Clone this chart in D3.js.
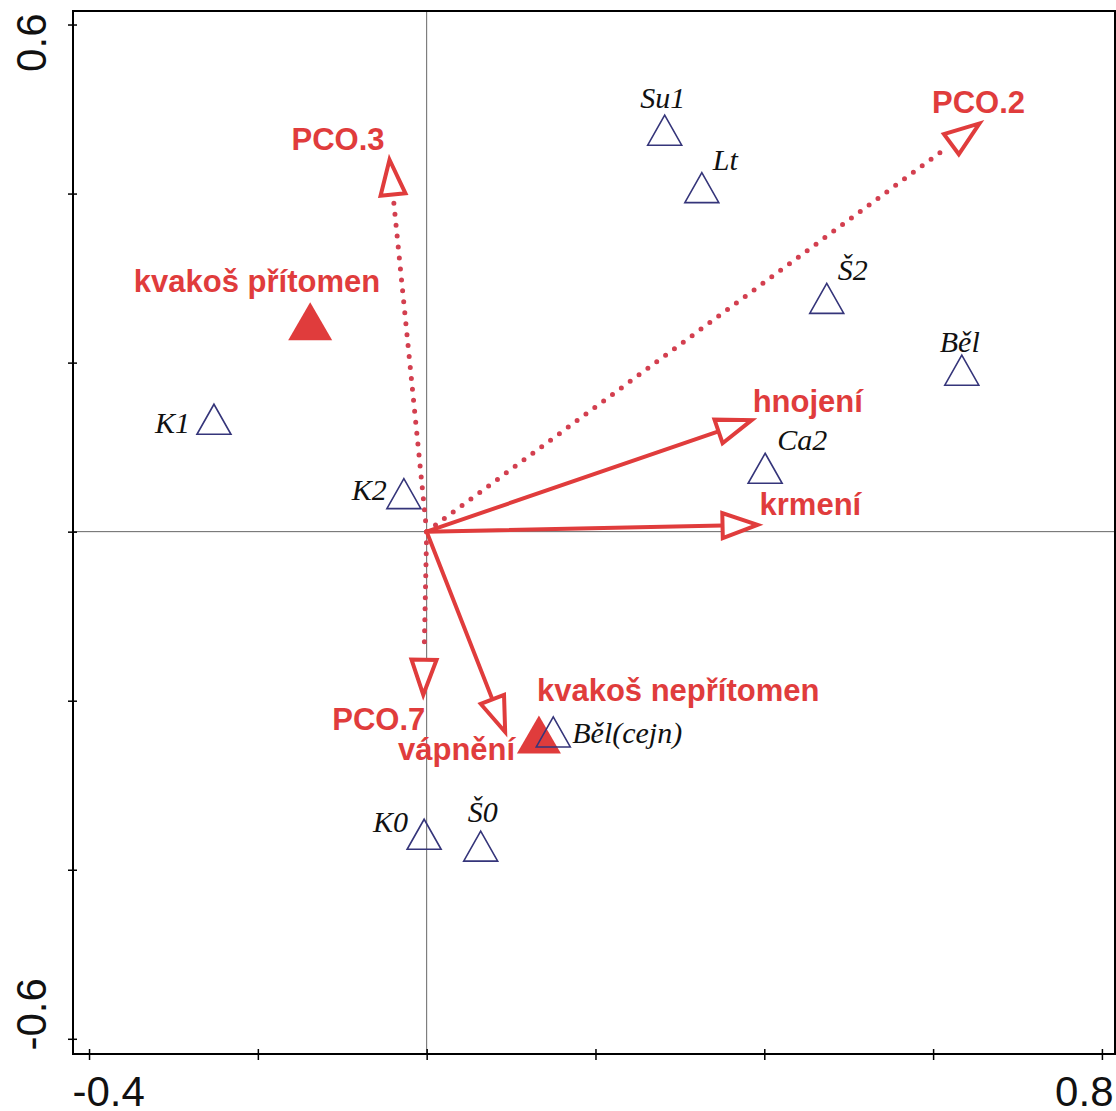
<!DOCTYPE html>
<html>
<head>
<meta charset="utf-8">
<script src="https://cdn.jsdelivr.net/npm/d3@7"></script>
<style>
  body { margin: 0; background: #fff; }
  svg { display: block; }
</style>
</head>
<body>
<script>
// sites (sample scores)
var siteNames = ["Su1", "Lt", "Š2", "Běl", "K1", "K2", "Ca2", "Běl(cejn)", "K0", "Š0"];
var siteX = [0.282, 0.326, 0.474, 0.634, -0.252, -0.027, 0.401, 0.150, -0.003, 0.064];
var siteY = [0.475, 0.407, 0.276, 0.191, 0.133, 0.045, 0.075, -0.237, -0.358, -0.372];

// quantitative env. variables (solid arrows)
var envNames = ["hnojení", "krmení", "vápnění"];
var envX = [0.385, 0.392, 0.093];
var envY = [0.132, 0.008, -0.237];

// PCO covariates (dotted arrows)
var pcoNames = ["PCO.2", "PCO.3", "PCO.7"];
var pcoX = [0.655, -0.044, -0.004];
var pcoY = [0.483, 0.440, -0.193];

// factor centroids (filled triangles)
var factorNames = ["kvakoš přítomen", "kvakoš nepřítomen"];
var factorX = [-0.138, 0.133];
var factorY = [0.249, -0.240];

var xTicks = [-0.4, -0.2, 0, 0.2, 0.4, 0.6, 0.8];
var yTicks = [-0.6, -0.4, -0.2, 0, 0.2, 0.4, 0.6];
var xTickLabels = ["-0.4", "", "", "", "", "", "0.8"];
var yTickLabels = ["-0.6", "", "", "", "", "", "0.6"];

// label offsets in px: [anchor, dx, dy]
var siteLab = {
  "Su1": ["middle", -2, -22], "Lt": ["start", 11, -18], "Š2": ["start", 11, -18],
  "Běl": ["middle", -2, -18], "K1": ["end", -24, 14], "K2": ["end", -17, 6],
  "Ca2": ["start", 12, -18], "Běl(cejn)": ["start", 19, 11], "K0": ["end", -16, -2],
  "Š0": ["middle", 2, -24]
};
var vecLab = {
  "hnojení": ["start", 1, -8], "krmení": ["start", 2, -10], "vápnění": ["end", 10, 28],
  "PCO.2": ["middle", -1, -10], "PCO.3": ["end", -5, -10], "PCO.7": ["end", 2, 35]
};
var factorLab = {
  "kvakoš přítomen": ["end", 70, -29], "kvakoš nepřítomen": ["start", -2, -34]
};

var W = 1116, H = 1111;
var red = "#e03c3c", dotRed = "#d33f4f", navy = "#35357a";

var svg = d3.select("body").append("svg")
    .attr("width", W)
    .attr("height", H);

var x = d3.scaleLinear().domain([-0.419, 0.8155]).range([73, 1115]);
var y = d3.scaleLinear().domain([-0.618, 0.616]).range([1054, 11]);

//zero lines
svg.append("line")
    .attr("x1", x(0)).attr("x2", x(0)).attr("y1", y.range()[1]).attr("y2", y.range()[0])
    .attr("stroke", "#666").attr("stroke-width", 1);
svg.append("line")
    .attr("x1", x.range()[0]).attr("x2", x.range()[1]).attr("y1", y(0)).attr("y2", y(0))
    .attr("stroke", "#666").attr("stroke-width", 1);

//axes, ticks crossing the frame
var xAxis = d3.axisBottom(x).tickValues(xTicks).tickSize(11).tickPadding(36)
    .tickFormat(function(d, i) { return xTickLabels[i]; });
var gx = svg.append("g")
    .attr("transform", "translate(0," + (y.range()[0] - 5) + ")")
    .call(xAxis);
gx.select(".domain").remove();
gx.selectAll("line").attr("stroke", "#000").attr("stroke-width", 1.5);
gx.selectAll("text")
    .style("font-family", "'Liberation Sans', Arial, sans-serif")
    .style("font-size", "42px")
    .attr("fill", "#111")
    .attr("dy", 0)
    .attr("y", 57);
gx.selectAll("text").filter(function(d) { return d === xTicks[0]; })
    .attr("text-anchor", "start").attr("x", x.range()[0] - 1 - x(xTicks[0]));
gx.selectAll("text").filter(function(d) { return d === xTicks[xTicks.length - 1]; })
    .attr("text-anchor", "end").attr("x", x.range()[1] - 2 - x(xTicks[xTicks.length - 1]));

var yAxis = d3.axisLeft(y).tickValues(yTicks).tickSize(9)
    .tickFormat(function(d, i) { return yTickLabels[i]; });
var gy = svg.append("g")
    .attr("transform", "translate(" + (x.range()[0] + 4) + ",0)")
    .call(yAxis);
gy.select(".domain").remove();
gy.selectAll("line").attr("stroke", "#000").attr("stroke-width", 1.5);
gy.selectAll("text")
    .style("font-family", "'Liberation Sans', Arial, sans-serif")
    .style("font-size", "42px")
    .attr("fill", "#111")
    .attr("x", null).attr("dy", null);
gy.selectAll("text").filter(function(d) { return d === yTicks[0]; })
    .attr("text-anchor", "start")
    .attr("transform", function(d) { return "translate(-31," + (y.range()[0] - 4 - y(d)) + ") rotate(-90)"; });
gy.selectAll("text").filter(function(d) { return d === yTicks[yTicks.length - 1]; })
    .attr("text-anchor", "end")
    .attr("transform", function(d) { return "translate(-31," + (y.range()[1] + 2 - y(d)) + ") rotate(-90)"; });

//frame
svg.append("rect")
    .attr("x", x.range()[0]).attr("y", y.range()[1])
    .attr("width", x.range()[1] - x.range()[0])
    .attr("height", y.range()[0] - y.range()[1])
    .attr("fill", "none").attr("stroke", "#000").attr("stroke-width", 2);

function triPath(cx, cy, w, h) {
  return "M" + cx + "," + (cy - h / 2) + "L" + (cx + w / 2) + "," + (cy + h / 2) +
         "L" + (cx - w / 2) + "," + (cy + h / 2) + "Z";
}

// arrows
function drawArrows(names, vx, vy, dotted) {
  var ox = x(0), oy = y(0), headL = 35, headW = 12.5;
  var g = svg.append("g");
  names.forEach(function(n, i) {
    var tx = x(vx[i]), ty = y(vy[i]);
    var dx = tx - ox, dy = ty - oy, len = Math.sqrt(dx * dx + dy * dy);
    var ux = dx / len, uy = dy / len;
    var bx = tx - ux * headL, by = ty - uy * headL;
    var sx = dotted ? tx - ux * (headL + 8) : bx, sy = dotted ? ty - uy * (headL + 8) : by;
    g.append("line")
        .attr("x1", ox).attr("y1", oy).attr("x2", sx).attr("y2", sy)
        .attr("stroke", dotted ? dotRed : red)
        .attr("stroke-width", dotted ? 5 : 4)
        .attr("stroke-linecap", "round")
        .attr("stroke-dasharray", dotted ? "0 11" : null);
    g.append("path")
        .attr("d", "M" + tx + "," + ty +
                   "L" + (bx - uy * headW) + "," + (by + ux * headW) +
                   "L" + (bx + uy * headW) + "," + (by - ux * headW) + "Z")
        .attr("fill", "#fff")
        .attr("stroke", red)
        .attr("stroke-width", 4)
        .attr("stroke-linejoin", "miter");
    var l = vecLab[n];
    g.append("text")
        .attr("x", tx + l[1]).attr("y", ty + l[2])
        .attr("text-anchor", l[0])
        .style("font-family", "'Liberation Sans', Arial, sans-serif")
        .style("font-weight", "bold")
        .style("font-size", "31px")
        .attr("fill", red)
        .text(n);
  });
}
drawArrows(pcoNames, pcoX, pcoY, true);
drawArrows(envNames, envX, envY, false);

// factor centroids
factorNames.forEach(function(n, i) {
  var cx = x(factorX[i]), cy = y(factorY[i]);
  svg.append("path").attr("d", triPath(cx, cy, 44, 38)).attr("fill", red);
  var l = factorLab[n];
  svg.append("text")
      .attr("x", cx + l[1]).attr("y", cy + l[2])
      .attr("text-anchor", l[0])
      .style("font-family", "'Liberation Sans', Arial, sans-serif")
      .style("font-weight", "bold")
      .style("font-size", "31px")
      .attr("fill", red)
      .text(n);
});

// sites
var sites = svg.selectAll(".site")
    .data(siteNames)
    .enter().append("g")
    .attr("class", "site");
sites.append("path")
    .attr("d", function(d, i) { return triPath(x(siteX[i]), y(siteY[i]), 34, 30); })
    .attr("fill", "none")
    .attr("stroke", navy)
    .attr("stroke-width", 1.6);
sites.append("text")
    .attr("x", function(d, i) { return x(siteX[i]) + siteLab[d][1]; })
    .attr("y", function(d, i) { return y(siteY[i]) + siteLab[d][2]; })
    .attr("text-anchor", function(d) { return siteLab[d][0]; })
    .style("font-family", "'Liberation Serif', 'Times New Roman', serif")
    .style("font-style", "italic")
    .style("font-size", "30px")
    .attr("fill", "#111")
    .text(function(d) { return d; });
</script>
</body>
</html>
